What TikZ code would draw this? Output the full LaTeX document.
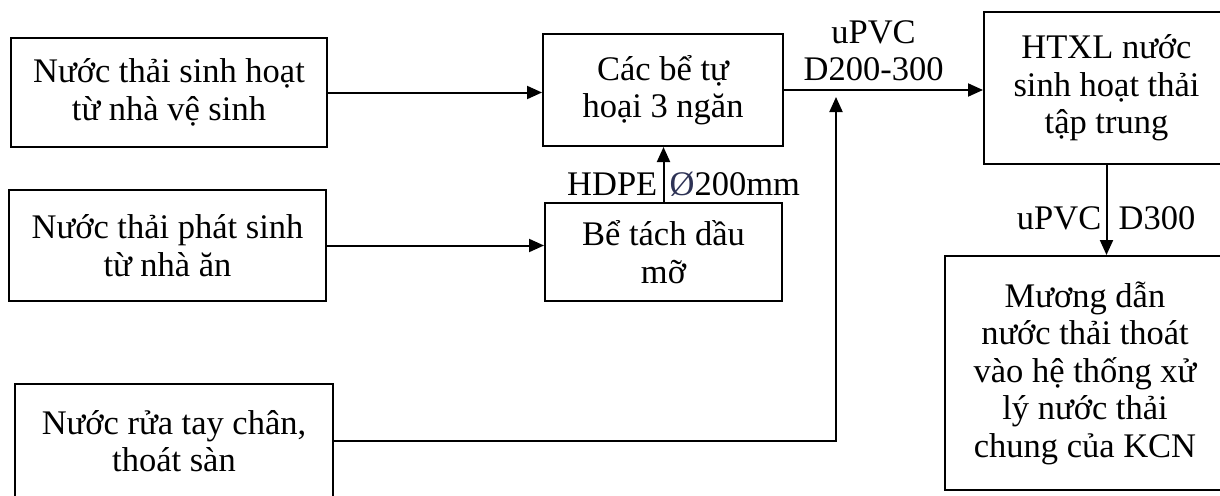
\documentclass[tikz,border=0pt]{standalone}
\usepackage{fontspec}
\setmainfont{Liberation Serif}
\usepackage{tikz}
\usetikzlibrary{positioning,arrows.meta,calc}
\newcommand{\vnsize}{\fontsize{34.5}{37.5}\selectfont}
\definecolor{slashzero}{RGB}{45,50,85}
\tikzset{
  box/.style={draw, line width=2pt, align=center, font=\vnsize, inner sep=0pt, anchor=north west},
  flow/.style={-{Triangle[length=15pt, width=13pt]}, line width=2pt},
  lbl/.style={font=\vnsize, inner sep=0pt},
}

\begin{document}
\begin{tikzpicture}[x=1pt, y=-1pt]
  \useasboundingbox (0,0) rectangle (1220,495);
  % sources on the left
  \node[box, minimum width=316pt, minimum height=109pt] (vesinh) at (10,37) {Nước thải sinh hoạt\\từ nhà vệ sinh};
  \node[box, minimum width=317pt, minimum height=111pt] (nhaan) at (8,189) {Nước thải phát sinh\\từ nhà ăn};
  \node[box, minimum width=318pt, minimum height=114pt] (ruatay) at (14,383) {Nước rửa tay chân,\\thoát sàn};
  % treatment tanks
  \node[box, minimum width=240pt, minimum height=112pt] (tuhoai) at (542,33) {Các bể tự\\hoại 3 ngăn};
  \node[box, minimum width=237pt, minimum height=98pt] (tachdau) at (544,202) {Bể tách dầu\\mỡ};
  % collection and discharge
  \node[box, minimum width=245pt, minimum height=152pt] (htxl) at (983,11) {HTXL nước\\sinh hoạt thải\\tập trung};
  \node[box, minimum width=280pt, minimum height=234pt] (muong) at (944,255) {Mương dẫn\\nước thải thoát\\vào hệ thống xử\\lý nước thải\\chung của KCN};
  \coordinate (noi) at (836,97);
  % pipe labels
  \node[lbl, anchor=base east] (hdpe) at ($(tachdau.north)+(-6,-7)$) {HDPE};
  \node[lbl, anchor=base west] (phi) at ($(tachdau.north)+(6,-7)$) {\textcolor{slashzero}{Ø}200mm};
  \node[lbl, align=center, anchor=south] (upvc) at ($(tuhoai.east)!0.45!(htxl.west)+(0,-8)$) {uPVC\\D200-300};
  \node[lbl, anchor=base east] (upvcx) at ($(htxl.south)+(-5,64)$) {uPVC};
  \node[lbl, anchor=base west] (dxa) at ($(htxl.south)+(12,64)$) {D300};
  % arrows
  \draw[flow] (vesinh.east) -- (vesinh.east -| tuhoai.west);
  \draw[flow] (nhaan.east) -- (nhaan.east -| tachdau.west);
  \draw[flow] (tachdau.north) -- (tachdau.north |- tuhoai.south);
  \draw[flow] (tuhoai.east) -- (tuhoai.east -| htxl.west);
  \draw[flow] (ruatay.east) -| (noi);
  \draw[flow] (htxl.south) -- (htxl.south |- muong.north);
\end{tikzpicture}
\end{document}
